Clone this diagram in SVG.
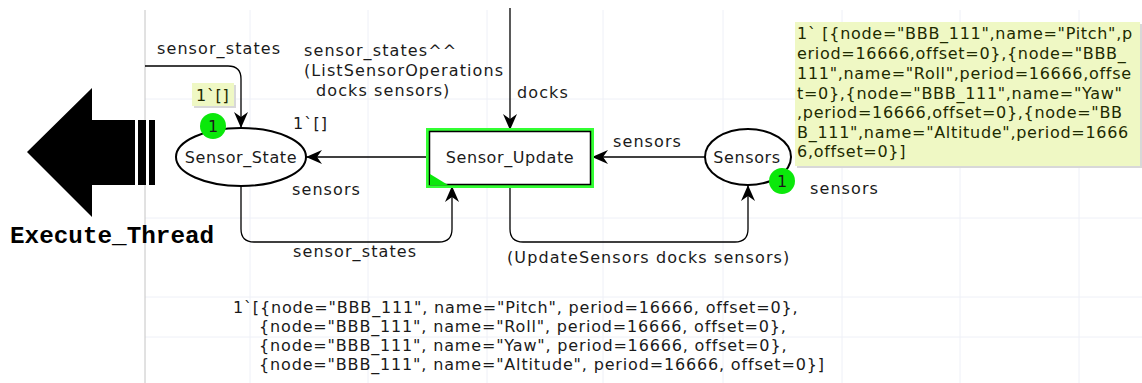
<svg xmlns="http://www.w3.org/2000/svg" width="1142" height="383" viewBox="0 0 1142 383">
<style>
.lbl{font-family:"DejaVu Sans",Verdana,sans-serif;font-size:16px;fill:#1a1a1a;letter-spacing:1.1px}
.nl{letter-spacing:0.6px}
.one{letter-spacing:0}
.mk{letter-spacing:0.84px}
.grid{stroke:#eef0f7;stroke-width:1}
.arc{fill:none;stroke:#000;stroke-width:1.3}
.tok{fill:#0be80b}
.tag{fill:#eff8c4}
.tagtxt{font-family:"DejaVu Sans",Verdana,sans-serif;font-size:16px;fill:#1e2a00;letter-spacing:0.7px}
</style>
<defs>
<marker id="ah" viewBox="0 0 16 14" refX="16" refY="7" markerWidth="16" markerHeight="14" markerUnits="userSpaceOnUse" orient="auto">
<path d="M0,0 L16,7 L0,14 L5,7 Z" fill="#000"/>
</marker>
</defs>
<rect width="1142" height="383" fill="#fff"/>
<g id="grid">
<line class="grid" x1="250" y1="10" x2="250" y2="383"/>
<line class="grid" x1="368" y1="10" x2="368" y2="383"/>
<line class="grid" x1="487" y1="10" x2="487" y2="383"/>
<line class="grid" x1="603" y1="10" x2="603" y2="383"/>
<line class="grid" x1="723" y1="10" x2="723" y2="383"/>
<line class="grid" x1="842" y1="10" x2="842" y2="383"/>
<line class="grid" x1="960" y1="10" x2="960" y2="383"/>
<line class="grid" x1="1079" y1="10" x2="1079" y2="383"/>
<line class="grid" x1="145" y1="99" x2="1142" y2="99"/>
<line class="grid" x1="145" y1="218" x2="1142" y2="218"/>
<line class="grid" x1="145" y1="297" x2="1142" y2="297"/>
<line class="grid" x1="145" y1="337" x2="1142" y2="337"/>
<line x1="145" y1="10" x2="145" y2="383" stroke="#c4c4c4" stroke-width="1"/>
</g>
<g id="Execute_Thread">
<path d="M27,152 L92,88 L92,120 L135,120 L135,185 L92,185 L92,217 Z" fill="#000"/>
<rect x="138" y="120" width="8" height="65" fill="#000"/>
<rect x="149" y="120" width="6" height="65" fill="#000"/>
<text x="10" y="243" font-family="Liberation Mono,Courier New,monospace" font-weight="bold" font-size="24.3" fill="#000">Execute_Thread</text>
</g>
<g id="connectors">
<path class="arc" d="M145,66 H228 Q241,66 241,79 V128" marker-end="url(#ah)"/>
<path class="arc" d="M510,8 V130" marker-end="url(#ah)"/>
<path class="arc" d="M428,157 H306" marker-end="url(#ah)"/>
<path class="arc" d="M705,157 H592" marker-end="url(#ah)"/>
<path class="arc" d="M241,186 V229 Q241,242 254,242 H439 Q452,242 452,229 V186" marker-end="url(#ah)"/>
<path class="arc" d="M510,186 V229 Q510,242 523,242 H735 Q748,242 748,229 V185" marker-end="url(#ah)"/>
<text class="lbl" x="157" y="54">sensor_states</text>
<text class="lbl" x="304" y="56">sensor_states^^</text>
<text class="lbl" x="304" y="76">(ListSensorOperations</text>
<text class="lbl" x="316" y="96">docks sensors)</text>
<text class="lbl" x="517" y="98">docks</text>
<text class="lbl" x="292" y="195">sensors</text>
<text class="lbl" x="293" y="257">sensor_states</text>
<text class="lbl" x="613" y="147">sensors</text>
<text class="lbl" x="507" y="263">(UpdateSensors docks sensors)</text>
<text class="lbl" x="810" y="194">sensors</text>
</g>
<g id="Sensor_State">
<ellipse cx="241" cy="157" rx="65" ry="29" fill="#fff" stroke="#000" stroke-width="2"/>
<text class="lbl nl" x="241" y="163" text-anchor="middle">Sensor_State</text>
<rect x="194" y="85" width="42" height="23" fill="#d8d8d8"/>
<rect class="tag" x="192" y="83" width="42" height="23"/>
<text class="tagtxt" x="196" y="101">1`[]</text>
<circle class="tok" cx="213" cy="126" r="13"/>
<text class="lbl one" x="213" y="132" text-anchor="middle">1</text>
<text class="lbl" x="293" y="129">1`[]</text>
</g>
<g id="Sensor_Update">
<rect x="428" y="130" width="164" height="56" fill="#fff" stroke="#33ff33" stroke-width="4"/>
<rect x="429.5" y="131.5" width="161" height="53" fill="none" stroke="#000" stroke-width="1.5"/>
<path d="M430,174 L430,185 L448,185 Z" fill="#0be80b"/>
<text class="lbl nl" x="510" y="163" text-anchor="middle">Sensor_Update</text>
</g>
<g id="Sensors">
<ellipse cx="748" cy="157" rx="43" ry="28" fill="#fff" stroke="#000" stroke-width="2"/>
<text class="lbl nl" x="747" y="163" text-anchor="middle">Sensors</text>
<circle class="tok" cx="782" cy="181" r="13"/>
<text class="lbl one" x="782" y="187" text-anchor="middle">1</text>
<rect x="797" y="24" width="345" height="144" fill="#d8d8d8"/>
<rect class="tag" x="795" y="22" width="345" height="144"/>
<text class="tagtxt">
<tspan x="797" y="39">1` [{node="BBB_111",name="Pitch",p</tspan>
<tspan x="797" y="59">eriod=16666,offset=0},{node="BBB_</tspan>
<tspan x="797" y="79">111",name="Roll",period=16666,offse</tspan>
<tspan x="797" y="99">t=0},{node="BBB_111",name="Yaw"</tspan>
<tspan x="797" y="118">,period=16666,offset=0},{node="BB</tspan>
<tspan x="797" y="138">B_111",name="Altitude",period=1666</tspan>
<tspan x="797" y="157">6,offset=0}]</tspan>
</text>
</g>
<g id="initial_marking">
<text class="lbl mk">
<tspan x="233" y="313">1`[{node="BBB_111", name="Pitch", period=16666, offset=0},</tspan>
<tspan x="259" y="332">{node="BBB_111", name="Roll", period=16666, offset=0},</tspan>
<tspan x="259" y="351">{node="BBB_111", name="Yaw", period=16666, offset=0},</tspan>
<tspan x="259" y="370">{node="BBB_111", name="Altitude", period=16666, offset=0}]</tspan>
</text>
</g>
</svg>
